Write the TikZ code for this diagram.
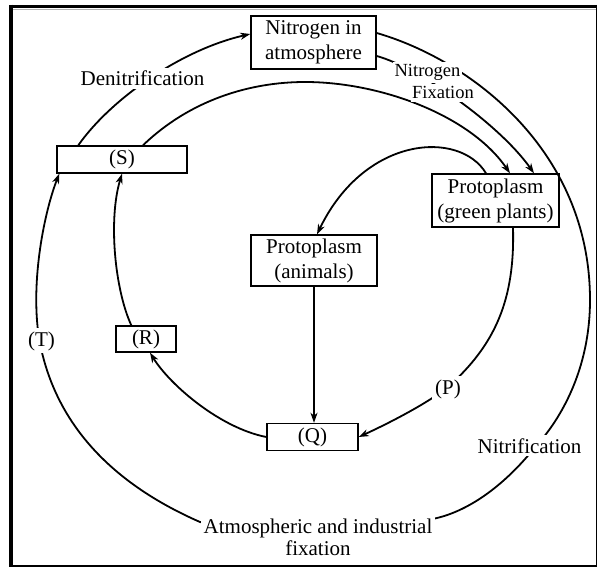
\documentclass[tikz,border=0pt]{standalone}
\usepackage{fontspec}
\setmainfont{Liberation Serif}
\usetikzlibrary{arrows.meta}
\tikzset{
  box/.style={draw, line width=1.4pt, inner sep=0pt, align=center, font=\fontsize{21}{25}\selectfont},
  flow/.style={line width=1.8pt, -{Stealth[length=10pt,width=7pt,inset=3pt]}},
  plainline/.style={line width=1.8pt},
  lbl/.style={fill=white, inner sep=3pt, align=center, font=\fontsize{21}{22}\selectfont},
  smalllbl/.style={fill=white, inner xsep=1.5pt, inner ysep=2.5pt, font=\fontsize{18.5}{21}\selectfont},
  frameline/.style={line width=1.2pt},
}
\begin{document}
\begin{tikzpicture}[x=1pt,y=-1pt]
\useasboundingbox (0,0) rectangle (597,569);
% frame
\draw[line width=3.8pt] (9,6.5) -- (597,6.5);
\draw[gray!60, line width=0.7pt] (13,9.6) -- (597,9.6);
\draw[line width=4pt] (11,4.6) -- (11,567);
\draw[frameline] (9,566) -- (597,566);
\draw[frameline] (596.4,5) -- (596.4,566);

% boxes
\node[box, minimum width=125pt, minimum height=53pt] (nat) at (313.5,42.5) {Nitrogen in\\atmosphere};
\node[box, minimum width=130pt, minimum height=27pt] (sbox) at (122,159.5) {(S)};
\node[box, minimum width=127pt, minimum height=53pt] (gp) at (495.5,200.5) {Protoplasm\\(green plants)};
\node[box, minimum width=126pt, minimum height=51pt] (an) at (314,260.5) {Protoplasm\\(animals)};
\node[box, minimum width=60pt, minimum height=26pt] (rbox) at (146,339) {(R)};
\node[box, minimum width=91pt, minimum height=27pt] (qbox) at (312.5,437) {(Q)};

% connectors
% denitrification
\draw[flow] ([xshift=22pt]sbox.north west) .. controls (110,100) and (180,50) .. ([yshift=8.5pt]nat.west);
% S -> green plants (inner arc)
\draw[flow] ([xshift=21pt]sbox.north) .. controls (190,100) and (250,82) .. (305,82)
  .. controls (380,82) and (470,115) .. ([xshift=14.5pt]gp.north);
% nitrogen fixation
\draw[flow] ([yshift=-13.5pt]nat.east) .. controls (420,68) and (500,125) .. ([xshift=38.5pt]gp.north);
% green plants -> animals
\draw[flow] ([xshift=-9.5pt]gp.north) .. controls (460,130) and (365,135) .. ([xshift=3pt]an.north);
% animals -> Q
\draw[flow] (an.south) -- (an.south |- qbox.north);
% green plants -> Q via (P)
\draw[flow] ([xshift=17.5pt]gp.south) .. controls (515,300) and (495,345) .. (448,387)
  .. controls (425,405) and (385,425) .. (qbox.east);
% Q -> R
\draw[flow] (qbox.west) .. controls (220,428) and (170,385) .. ([xshift=4pt]rbox.south);
% R -> S
\draw[flow] ([xshift=16pt]rbox.north west) .. controls (115,290) and (108,220) .. (sbox.south);
% outer cycle: atmosphere -> nitrification -> fixation -> (T) -> S
\draw[flow] ([yshift=9.5pt]nat.east) .. controls (470,60) and (590,150) .. (590,300)
  .. controls (590,370) and (560,420) .. (536,446)
  .. controls (505,485) and (470,510) .. (437,518)
  .. controls (380,532) and (260,535) .. (200,522)
  .. controls (120,487) and (55,430) .. (39,338)
  .. controls (30,280) and (45,210) .. ([xshift=3pt]sbox.south west);

% labels
\node[lbl, anchor=base] (lden) at (142.5,86) {Denitrification};
\node[smalllbl, anchor=base] (lnf1) at (427.5,77) {Nitrogen};
\node[smalllbl, anchor=base] (lnf2) at (443,99) {Fixation};
\node[lbl, anchor=base] (lnit) at (529.5,453) {Nitrification};
\node[lbl] (latm) at (318,537) {Atmospheric and industrial\\fixation};
\node[lbl, anchor=base] (lt) at (41.5,346) {(T)};
\node[lbl, anchor=base] (lp) at (448,394) {(P)};
\end{tikzpicture}
\end{document}
